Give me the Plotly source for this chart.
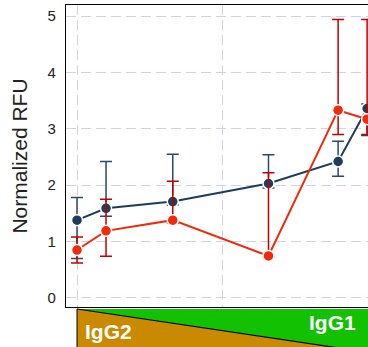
import plotly.graph_objects as go

# percent IgG1 in the mixture
x_pct = [0, 10, 33, 66, 90, 100]

blue_y = [1.38, 1.59, 1.71, 2.03, 2.42, 3.36]
blue_hi = [1.78, 2.42, 2.55, 2.54, 2.78, 3.44]
blue_lo = [0.70, 1.45, 1.65, 1.95, 2.16, 2.88]

red_y = [0.85, 1.19, 1.38, 0.745, 3.33, 3.17]
red_hi = [1.08, 1.75, 2.07, 2.22, 4.94, 4.94]
red_lo = [0.62, 0.74, 1.33, 0.73, 2.90, 2.90]

y_ticks = [0, 1, 2, 3, 4, 5]
label_left = "IgG2"
label_right = "IgG1"

BLUE = "#1d3d5c"
BLUE_ERR = "#2b4a68"
RED = "#f02a0a"
RED_ERR = "#c40000"
FONT = "Liberation Sans, Arial"


def trace(y, hi, lo, color, ecolor):
    return go.Scatter(
        x=x_pct, y=y, mode="lines+markers",
        line=dict(color=color, width=2),
        marker=dict(size=11, color=color, line=dict(color="white", width=1.5)),
        error_y=dict(type="data", symmetric=False,
                     array=[h - v for h, v in zip(hi, y)],
                     arrayminus=[v - l for v, l in zip(y, lo)],
                     color=ecolor, thickness=1.5, width=6),
        showlegend=False,
    )


fig = go.Figure()
fig.add_trace(trace(blue_y, blue_hi, blue_lo, BLUE, BLUE_ERR))
fig.add_trace(trace(red_y, red_hi, red_lo, RED, RED_ERR))

grid = dict(gridcolor="#d2d2e4", griddash="10px,5px", gridwidth=1.2)

fig.update_xaxes(range=[-3.8, 100.3], tickvals=[0, 50, 100], showticklabels=False,
                 ticks="", showline=True, linecolor="black", linewidth=1.2,
                 mirror=True, zeroline=False, **grid)
fig.update_yaxes(range=[-0.16, 5.195], tickvals=y_ticks, showline=True,
                 linecolor="black", linewidth=1.2, zeroline=False,
                 ticks="", ticklabelstandoff=6, automargin=False,
                 tickfont=dict(family=FONT, size=15, color="#222"),
                 title=dict(text="Normalized RFU", standoff=14,
                            font=dict(family=FONT, size=21, color="#222")),
                 **grid)

# bottom composition graphic
y0p = -0.0066
y1p = -0.15
fig.add_shape(type="path", xref="x", yref="paper",
              path=f"M 0 {y0p} L 100.3 {y0p} L 100.3 {y1p} Z",
              fillcolor="#12c100", line=dict(width=0), layer="above")
fig.add_shape(type="path", xref="x", yref="paper",
              path=f"M 0 {y0p} L 100.3 {y1p} L 0 {y1p} Z",
              fillcolor="#c98900", line=dict(width=0), layer="above")
fig.add_shape(type="line", xref="x", yref="paper", x0=0, y0=y0p, x1=100.3, y1=y1p,
              line=dict(color="black", width=1.2), layer="above")
fig.add_shape(type="line", xref="x", yref="paper", x0=0, y0=y0p, x1=0, y1=y1p,
              line=dict(color="black", width=1), layer="above")

fig.add_annotation(text=f"<b>{label_left}</b>", xref="x", yref="paper", x=2, y=-0.08,
                   xanchor="left", yanchor="middle", showarrow=False,
                   font=dict(family=FONT, size=21, color="white"))
fig.add_annotation(text=f"<b>{label_right}</b>", xref="x", yref="paper", x=96.8, y=-0.05,
                   xanchor="right", yanchor="middle", showarrow=False,
                   font=dict(family=FONT, size=21, color="white"))

fig.update_layout(width=368, height=347, margin=dict(l=66, r=0, t=5, b=40, autoexpand=False),
                  paper_bgcolor="white", plot_bgcolor="white")

fig.write_html("out.html", config={"displayModeBar": False},
               post_script="document.body.style.margin='0';")
